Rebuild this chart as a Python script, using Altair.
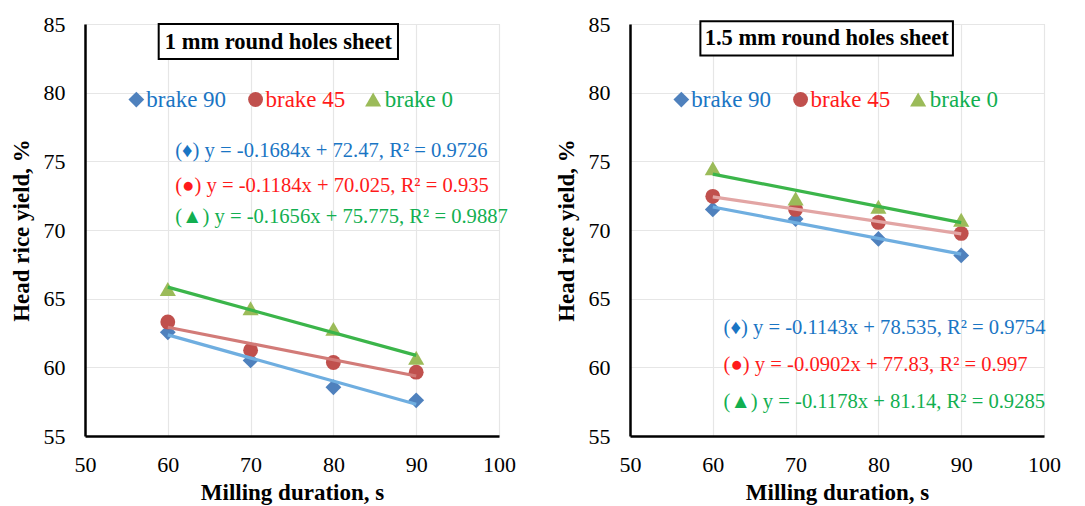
import altair as alt
import pandas as pd

# Milling duration (s) and head rice yield (%) for the three brake settings
duration = [60, 70, 80, 90]
series_names = ["brake 90", "brake 45", "brake 0"]

yield_1mm_b90 = [62.55, 60.5, 58.55, 57.6]
yield_1mm_b45 = [63.3, 61.25, 60.35, 59.65]
yield_1mm_b0 = [65.7, 64.3, 62.8, 60.7]

yield_15mm_b90 = [71.5, 70.8, 69.35, 68.15]
yield_15mm_b45 = [72.45, 71.5, 70.55, 69.75]
yield_15mm_b0 = [74.5, 72.3, 71.7, 70.75]

# Linear trend lines (slope, intercept, R²)
slope_1mm = [-0.1684, -0.1184, -0.1656]
intercept_1mm = [72.47, 70.025, 75.775]
r2_1mm = [0.9726, 0.935, 0.9887]

slope_15mm = [-0.1143, -0.0902, -0.1178]
intercept_15mm = [78.535, 77.83, 81.14]
r2_15mm = [0.9754, 0.997, 0.9285]

FONT = "Liberation Serif"
marker_colors = ["#4F81BD", "#C0504D", "#9BBB59"]
marker_shapes = ["diamond", "circle", "triangle-up"]
marker_sizes = [250, 220, 260]
text_colors = ["#1A75C4", "#FF1A1A", "#12AF50"]
eq_glyphs = ["\u2666", "\u25CF", "\u25B2"]

X_SCALE = alt.Scale(domain=[50, 100], nice=False)
Y_SCALE = alt.Scale(domain=[55, 85], nice=False)


def panel(title, yields, slopes, intercepts, r2s, trend_colors, eq_x, eq_ys, box):
    rows = []
    for name, ys in zip(series_names, yields):
        for x, y in zip(duration, ys):
            rows.append({"series": name, "x": x, "y": y})
    pts = pd.DataFrame(rows)

    trend_rows = []
    for name, m, b in zip(series_names, slopes, intercepts):
        for x in (duration[0], duration[-1]):
            trend_rows.append({"series": name, "x": x, "y": m * x + b})
    trend = pd.DataFrame(trend_rows)

    xenc = alt.X(
        "x:Q", scale=X_SCALE,
        axis=alt.Axis(values=[50, 60, 70, 80, 90, 100], title="Milling duration, s",
                      titleFontWeight="bold", titleFontSize=23, titleFont=FONT,
                      labelFont=FONT, labelFontSize=22, labelColor="black",
                      titleColor="black", labelPadding=18, titlePadding=6,
                      labelFlush=False, ticks=False, domainColor="black", domainWidth=2.5,
                      gridColor="#E6E6E6", gridWidth=1.2),
    )
    yenc = alt.Y(
        "y:Q", scale=Y_SCALE,
        axis=alt.Axis(values=[55, 60, 65, 70, 75, 80, 85], title="Head rice yield, %",
                      titleFontWeight="bold", titleFontSize=23, titleFont=FONT,
                      labelFont=FONT, labelFontSize=22, labelColor="black",
                      titleColor="black", labelPadding=20, titlePadding=10,
                      labelFlush=False, ticks=False, domainColor="black", domainWidth=2.5,
                      gridColor="#E6E6E6", gridWidth=1.2),
    )

    layers = []
    # data markers
    for name, color, shape, size in zip(series_names, marker_colors, marker_shapes, marker_sizes):
        layers.append(
            alt.Chart(pts).transform_filter(alt.datum.series == name)
            .mark_point(filled=True, opacity=1, shape=shape, size=size, color=color)
            .encode(x=xenc, y=yenc)
        )
    # trend lines
    for name, color in zip(series_names, trend_colors):
        layers.append(
            alt.Chart(trend).transform_filter(alt.datum.series == name)
            .mark_line(color=color, strokeWidth=3.2)
            .encode(x=alt.X("x:Q", scale=X_SCALE), y=alt.Y("y:Q", scale=Y_SCALE))
        )

    # legend row
    leg = pd.DataFrame({
        "series": series_names,
        "mx": [56.2, 70.6, 84.8],
        "tx": [57.4, 71.8, 86.2],
        "y": [79.5] * 3,
    })
    for i, name in enumerate(series_names):
        sub = leg[leg.series == name]
        layers.append(
            alt.Chart(sub).mark_point(filled=True, opacity=1, shape=marker_shapes[i],
                                      size=marker_sizes[i], color=marker_colors[i])
            .encode(x=alt.X("mx:Q", scale=X_SCALE), y=alt.Y("y:Q", scale=Y_SCALE))
        )
        layers.append(
            alt.Chart(sub).mark_text(align="left", baseline="middle", font=FONT,
                                     fontSize=23, color=text_colors[i])
            .encode(x=alt.X("tx:Q", scale=X_SCALE), y=alt.Y("y:Q", scale=Y_SCALE),
                    text="series:N")
        )

    # trend equations
    eqs = pd.DataFrame({
        "label": [f"({g}) y = {m}x + {b}, R\u00b2 = {r}"
                  for g, m, b, r in zip(eq_glyphs, slopes, intercepts, r2s)],
        "x": [eq_x] * 3,
        "y": eq_ys,
        "c": text_colors,
    })
    layers.append(
        alt.Chart(eqs).mark_text(align="left", baseline="middle", font=FONT, fontSize=20.6)
        .encode(x=alt.X("x:Q", scale=X_SCALE), y=alt.Y("y:Q", scale=Y_SCALE),
                text="label:N", color=alt.Color("c:N", scale=None))
    )

    # boxed panel title
    bx = pd.DataFrame({"x": [box[0]], "x2": [box[1]], "y": [box[2]], "y2": [box[3]],
                       "cx": [(box[0] + box[1]) / 2], "cy": [(box[2] + box[3]) / 2],
                       "t": [title]})
    layers.append(
        alt.Chart(bx).mark_rect(fill="white", stroke="black", strokeWidth=2)
        .encode(x=alt.X("x:Q", scale=X_SCALE), x2="x2:Q",
                y=alt.Y("y:Q", scale=Y_SCALE), y2="y2:Q")
    )
    layers.append(
        alt.Chart(bx).mark_text(font=FONT, fontSize=22.5, fontWeight="bold", color="black",
                                baseline="middle")
        .encode(x=alt.X("cx:Q", scale=X_SCALE), y=alt.Y("cy:Q", scale=Y_SCALE), text="t:N")
    )

    return alt.layer(*layers).properties(width=414, height=412)


left = panel("1 mm round holes sheet",
             [yield_1mm_b90, yield_1mm_b45, yield_1mm_b0],
             slope_1mm, intercept_1mm, r2_1mm,
             ["#6FAEE0", "#D27B78", "#3BB54A"],
             60.9, [75.75, 73.2, 70.95],
             (58.9, 87.8, 82.45, 85.0))

right = panel("1.5 mm round holes sheet",
              [yield_15mm_b90, yield_15mm_b45, yield_15mm_b0],
              slope_15mm, intercept_15mm, r2_15mm,
              ["#6FAEE0", "#E2A5A4", "#3BB54A"],
              61.3, [62.9, 60.2, 57.5],
              (58.5, 89.0, 82.7, 85.2))

chart = (
    alt.hconcat(left, right, spacing=38)
    .properties(padding={"left": 9, "top": 12, "right": 0, "bottom": 0})
    .configure_view(stroke=None)
    .configure(background="white")
)

chart.save("out.html", embed_options={"renderer": "svg", "actions": False})
